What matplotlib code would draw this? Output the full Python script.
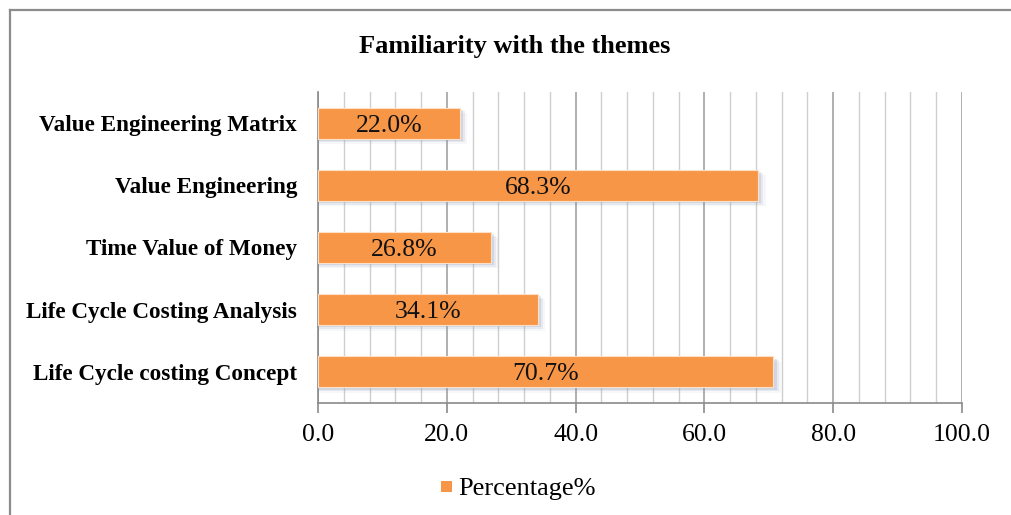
import numpy as np
import matplotlib.pyplot as plt
from matplotlib.lines import Line2D
from matplotlib.patches import Rectangle
from matplotlib.ticker import MultipleLocator

plt.rcParams['font.family'] = ['Liberation Serif', 'DejaVu Serif']

# data
themes = ['Life Cycle costing Concept', 'Life Cycle Costing Analysis',
          'Time Value of Money', 'Value Engineering', 'Value Engineering Matrix']
percentages = [70.7, 34.1, 26.8, 68.3, 22.0]
bar_color = '#F79646'

fig = plt.figure(figsize=(10.11, 5.15), dpi=100)
ax = fig.add_axes([318 / 1011, 1 - 403 / 515, (962 - 318) / 1011, (403 - 92) / 515])

y = np.arange(len(themes))
h = 0.5

# soft drop shadow under each bar
for yi, v in zip(y, percentages):
    for k, a in enumerate([0.22, 0.14, 0.08]):
        ax.add_patch(Rectangle((0.2, yi - h / 2 - 0.035 - k * 0.025), v + 0.3 + k * 0.35, h,
                               facecolor='#8a9ab5', alpha=a, edgecolor='none', zorder=2))

bars = ax.barh(y, percentages, height=h, color=bar_color, edgecolor='#fde0c8',
               linewidth=0.8, zorder=3)

for b, v in zip(bars, percentages):
    ax.text(v / 2, b.get_y() + h / 2, f'{v:.1f}%', ha='center', va='center_baseline',
            fontsize=18.5, color='#111111', zorder=4)

ax.set_xlim(0, 100)
ax.set_ylim(-0.5, len(themes) - 0.5)
ax.xaxis.set_major_locator(MultipleLocator(20))
ax.xaxis.set_minor_locator(MultipleLocator(4))
ax.set_xticklabels([f'{t:.1f}' for t in np.arange(-20, 120, 20)])
ax.grid(axis='x', which='major', color='#9a9a9a', linewidth=1.1, zorder=0)
ax.grid(axis='x', which='minor', color='#cfcfcf', linewidth=1.0, zorder=0)
ax.set_axisbelow(True)

ax.set_yticks(y)
ax.set_yticklabels(themes, fontsize=16.7, fontweight='bold')
ax.tick_params(axis='y', length=0, pad=15)
ax.tick_params(axis='x', which='major', length=7, width=1.2, color='#8a8a8a',
               labelsize=18.5, pad=8)
ax.tick_params(axis='x', which='minor', length=0)

for s in ['top', 'right']:
    ax.spines[s].set_visible(False)
ax.spines['left'].set_color('#8a8a8a')
ax.spines['bottom'].set_color('#8a8a8a')
ax.spines['left'].set_linewidth(1.2)
ax.spines['bottom'].set_linewidth(1.2)

fig.text(515 / 1011, 1 - 47 / 515, 'Familiarity with the themes', ha='center', va='center',
         fontsize=19, fontweight='bold')

# legend
fig.patches.append(Rectangle((441 / 1011, 1 - 492 / 515), 11 / 1011, 11 / 515,
                             transform=fig.transFigure, facecolor=bar_color,
                             edgecolor='none'))
fig.text(458 / 1011, 1 - 487 / 515, 'Percentage%', ha='left', va='center_baseline',
         fontsize=19)

# outer chart frame
fig.lines.append(Line2D([9.5 / 1011, 9.5 / 1011], [0, 1 - 10 / 515],
                        transform=fig.transFigure, color='#8c8c8c', linewidth=1.6))
fig.lines.append(Line2D([9.5 / 1011, 1], [1 - 10 / 515, 1 - 10 / 515],
                        transform=fig.transFigure, color='#8c8c8c', linewidth=1.6))

fig.savefig('out.png', dpi=100)
